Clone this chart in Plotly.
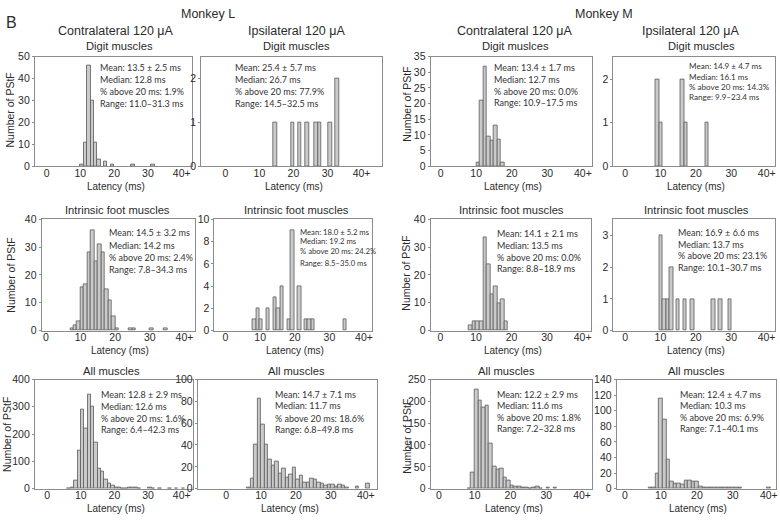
import plotly.graph_objects as go

W, H = 780, 522

# ---------------- data (bin centre latency in ms, number of PStF per 1-ms bin) ----------------
l_contra_digit_lat = [10.5, 11.5, 12.5, 13.5, 14.5, 15.5, 17.5, 19.5, 25.5, 31.5]
l_contra_digit_n = [1, 11, 46, 30, 11, 3, 2, 1, 1, 1]

l_ipsi_digit_lat = [14.6, 19.8, 21.9, 24.0, 26.7, 27.7, 30.8, 32.9]
l_ipsi_digit_n = [1, 1, 1, 1, 1, 1, 1, 2]

m_contra_digit_lat = [10.5, 11.5, 12.5, 13.5, 14.5, 15.5, 16.5, 17.5]
m_contra_digit_n = [1.1, 21, 31.7, 9.4, 8.2, 12.9, 8.4, 1.2]

m_ipsi_digit_lat = [9.1, 10.1, 16.2, 17.2, 23.1]
m_ipsi_digit_n = [2, 1, 2, 1, 1]

l_contra_foot_lat = [7.5, 8.5, 9.5, 10.5, 11.5, 12.5, 13.5, 14.5, 15.5, 16.5, 17.5, 18.5, 19.5, 20.5, 24.5, 25.5, 30.5, 34.5]
l_contra_foot_n = [1, 2, 3.5, 15.5, 16.5, 28, 36, 25, 31, 28, 15, 11, 5, 1, 1, 1, 1, 1]

l_ipsi_foot_lat = [8.3, 9.3, 10.3, 12.3, 14.3, 15.3, 16.3, 18.3, 19.3, 21.3, 23.3, 24.3, 25.3, 34.5]
l_ipsi_foot_n = [1, 2, 1, 2, 3, 2, 4, 1, 9, 4, 1, 1, 1, 1]

m_contra_foot_lat = [8.5, 9.5, 10.5, 11.5, 12.5, 13.5, 14.5, 15.5, 16.5, 17.5, 18.5]
m_contra_foot_n = [2, 3.5, 3.5, 3.5, 33.5, 24, 13, 16, 10, 11.3, 3.5]

m_ipsi_foot_lat = [10.1, 11.1, 12.1, 13.1, 15.0, 16.9, 19.0, 25.0, 26.9, 29.7]
m_ipsi_foot_n = [3, 1, 1, 2, 1, 1, 1, 1, 1, 1]

l_contra_all_lat = [6.5, 7.5, 8.5, 9.5, 10.5, 11.5, 12.5, 13.5, 14.5, 15.5, 16.5, 17.5, 18.5, 19.5,
                    20.5, 21.5, 22.5, 23.5, 24.5, 25.5, 26.5, 27.5, 30.5, 31.5, 33.5, 36.5, 38.5, 40.5]
l_contra_all_n = [2, 5, 30, 140, 290, 220, 345, 300, 168, 72, 62, 35, 18, 10,
                  6, 4, 2, 2, 3, 3, 3, 1, 3, 2, 1, 2, 2, 1]

l_ipsi_all_lat = [6.5, 7.5, 8.5, 9.5, 10.5, 11.5, 12.5, 13.5, 14.5, 15.5, 16.5, 17.5, 18.5, 19.5,
                  20.5, 21.5, 22.5, 23.5, 24.5, 25.5, 26.5, 27.5, 28.5, 29.5, 30.5, 31.5, 32.5,
                  33.5, 34.5, 37.5, 40.5]
l_ipsi_all_n = [1, 9, 40, 83, 59, 40, 27, 21, 25, 14, 18, 10, 13, 19,
                8, 12, 6, 6, 9, 8, 6, 5, 3, 4, 4, 2, 4, 3, 1, 2, 5]

m_contra_all_lat = [8.5, 9.5, 10.5, 11.5, 12.5, 13.5, 14.5, 15.5, 16.5, 17.5, 18.5, 19.5, 20.5,
                    21.5, 22.5, 23.5, 24.5, 25.5, 26.5, 27.5, 28.5, 30.5, 32.5]
m_contra_all_n = [1, 38, 228, 203, 187, 190, 103, 50, 44, 47, 25, 18, 8,
                  5, 4, 3, 2, 1, 2, 4, 1, 2, 2]

m_ipsi_all_lat = [7, 8, 9, 10, 11, 12, 13, 14, 15, 16, 17, 18, 19, 20, 21, 22, 23, 24, 25,
                  26, 27, 28, 29, 30, 31, 32, 40]
m_ipsi_all_n = [1, 1, 19, 116, 89, 37, 9, 6, 7, 5, 11, 10, 9, 9, 3, 2, 2, 2, 2,
                1, 2, 1, 1, 2, 1, 1, 1]

x_tick_vals = [0, 10, 20, 30, 40]
x_tick_text = ["0", "10", "20", "30", "40+"]

stats_l_contra_digit = ["Mean: 13.5 ± 2.5 ms", "Median: 12.8 ms", "% above 20 ms: 1.9%", "Range: 11.0–31.3 ms"]
stats_l_ipsi_digit = ["Mean: 25.4 ± 5.7 ms", "Median: 26.7 ms", "% above 20 ms: 77.9%", "Range: 14.5–32.5 ms"]
stats_m_contra_digit = ["Mean: 13.4 ± 1.7 ms", "Median: 12.7 ms", "% above 20 ms: 0.0%", "Range: 10.9–17.5 ms"]
stats_m_ipsi_digit = ["Mean: 14.9 ± 4.7 ms", "Median: 16.1 ms", "% above 20 ms: 14.3%", "Range: 9.9–23.4 ms"]
stats_l_contra_foot = ["Mean: 14.5 ± 3.2 ms", "Median: 14.2 ms", "% above 20 ms: 2.4%", "Range: 7.8–34.3 ms"]
stats_l_ipsi_foot = ["Mean: 18.0 ± 5.2 ms", "Median: 19.2 ms", "% above 20 ms: 24.2%", "Range: 8.5–35.0 ms"]
stats_m_contra_foot = ["Mean: 14.1 ± 2.1 ms", "Median: 13.5 ms", "% above 20 ms: 0.0%", "Range: 8.8–18.9 ms"]
stats_m_ipsi_foot = ["Mean: 16.9 ± 6.6 ms", "Median: 13.7 ms", "% above 20 ms: 23.1%", "Range: 10.1–30.7 ms"]
stats_l_contra_all = ["Mean: 12.8 ± 2.9 ms", "Median: 12.6 ms", "% above 20 ms: 1.6%", "Range: 6.4–42.3 ms"]
stats_l_ipsi_all = ["Mean: 14.7 ± 7.1 ms", "Median: 11.7 ms", "% above 20 ms: 18.6%", "Range: 6.8–49.8 ms"]
stats_m_contra_all = ["Mean: 12.2 ± 2.9 ms", "Median: 11.6 ms", "% above 20 ms: 1.8%", "Range: 7.2–32.8 ms"]
stats_m_ipsi_all = ["Mean: 12.4 ± 4.7 ms", "Median: 10.3 ms", "% above 20 ms: 6.9%", "Range: 7.1–40.1 ms"]

# ---------------- layout of the 12 panels (pixel boxes) ----------------
SF = 9.0
panels = [
    dict(lat=l_contra_digit_lat, n=l_contra_digit_n, box=(35, 192.7, 51.7, 164), xr=(-3.45, 43.1),
         yr=(0, 50), yt=[0, 10, 20, 30, 40, 50], sub="Digit muscles", subx=120, stats=stats_l_contra_digit,
         sx=98.3, sy=[63.3, 75.7, 88.0, 100.0], sfs=SF, ylab=(10, 106)),
    dict(lat=l_ipsi_digit_lat, n=l_ipsi_digit_n, box=(201.7, 383.3, 51.7, 164), xr=(-7.1, 46.1),
         yr=(0, 2.5), yt=[0, 1, 2], sub="Digit muscles", subx=297.5, stats=stats_l_ipsi_digit,
         sx=233.3, sy=[63.3, 75.7, 88.0, 100.0], sfs=SF, ylab=None),
    dict(lat=m_contra_digit_lat, n=m_contra_digit_n, box=(431.7, 593.3, 51.7, 164), xr=(-2.8, 42.5),
         yr=(0, 35), yt=[0, 5, 10, 15, 20, 25, 30, 35], sub="Digit muslces", subx=516.7, stats=stats_m_contra_digit,
         sx=493.3, sy=[63.3, 75.7, 87.3, 98.3], sfs=SF, ylab=(408, 100)),
    dict(lat=m_ipsi_digit_lat, n=m_ipsi_digit_n, box=(615, 776.7, 51.7, 164), xr=(-3.3, 42.25),
         yr=(0, 2.52), yt=[0, 1, 2], sub="Digit muscles", subx=703, stats=stats_m_ipsi_digit,
         sx=688.3, sy=[61.7, 72.3, 82.7, 93.3], sfs=8.1, ylab=None),
    dict(lat=l_contra_foot_lat, n=l_contra_foot_n, box=(41.7, 195, 218.3, 332.3), xr=(-1.24, 42.9),
         yr=(0, 40), yt=[0, 10, 20, 30, 40], sub="Intrinsic foot muscles", subx=117.5, stats=stats_l_contra_foot,
         sx=107.3, sy=[232.3, 245.0, 257.7, 269.3], sfs=SF, ylab=(11, 275)),
    dict(lat=l_ipsi_foot_lat, n=l_ipsi_foot_n, box=(215, 373.3, 218.3, 332.3), xr=(-3.2, 42.4),
         yr=(0, 10), yt=[0, 2, 4, 6, 8, 10], sub="Intrinsic foot muscles", subx=297.5, stats=stats_l_ipsi_foot,
         sx=298.3, sy=[231.0, 240.7, 251.0, 263.3], sfs=7.7, ylab=None),
    dict(lat=m_contra_foot_lat, n=m_contra_foot_n, box=(431.7, 593, 218.3, 332.3), xr=(-2.8, 42.5),
         yr=(0, 40), yt=[0, 10, 20, 30, 40], sub="Intrinsic foot muscles", subx=513.3, stats=stats_m_contra_foot,
         sx=496, sy=[233.3, 245.0, 257.3, 269.0], sfs=SF, ylab=(407, 273)),
    dict(lat=m_ipsi_foot_lat, n=m_ipsi_foot_n, box=(615, 776.7, 218.3, 332.3), xr=(-3.3, 42.3),
         yr=(0, 3.5), yt=[0, 1, 2, 3], sub="Intrinsic foot muscles", subx=698.3, stats=stats_m_ipsi_foot,
         sx=677.3, sy=[232.3, 243.8, 255.7, 268.0], sfs=SF, ylab=None),
    dict(lat=l_contra_all_lat, n=l_contra_all_n, box=(35, 193.3, 382.3, 494), xr=(-3.65, 43.3),
         yr=(0, 400), yt=[0, 100, 200, 300, 400], sub="All muscles", subx=111.7, stats=stats_l_contra_all,
         sx=99.3, sy=[397.3, 410.0, 421.7, 433.3], sfs=SF, ylab=(7, 438)),
    dict(lat=l_ipsi_all_lat, n=l_ipsi_all_n, box=(198.3, 378.3, 382.3, 494), xr=(-8.1, 43.3),
         yr=(0, 100), yt=[0, 20, 40, 60, 80, 100], sub="All muscles", subx=297.5, stats=stats_l_ipsi_all,
         sx=273.3, sy=[397.3, 409.3, 421.7, 433.3], sfs=SF, ylab=None),
    dict(lat=m_contra_all_lat, n=m_contra_all_n, box=(431.7, 594, 382.3, 494), xr=(-2.3, 42.9),
         yr=(0, 250), yt=[0, 50, 100, 150, 200, 250], sub="All muscles", subx=508.3, stats=stats_m_contra_all,
         sx=496.7, sy=[397.3, 409.3, 421.0, 432.7], sfs=SF, ylab=(408, 440)),
    dict(lat=m_ipsi_all_lat, n=m_ipsi_all_n, box=(618.3, 778, 382.3, 494), xr=(-2.3, 42),
         yr=(0, 140), yt=[0, 20, 40, 60, 80, 100, 120, 140], sub="All muscles", subx=698.3, stats=stats_m_ipsi_all,
         sx=679.3, sy=[397.3, 409.3, 421.0, 432.7], sfs=SF, ylab=None),
]

TITLE_FONT = "Liberation Sans, Arial, sans-serif"
STAT_FONT = "Lato, sans-serif"
TXT = "#2b2b2b"
BOX = "#8c8c8c"


def px(x):
    return x / W


def py(y):
    return 1 - y / H


fig = go.Figure()
annotations = []


def add_text(x, y, text, size, xanchor="center", font=TITLE_FONT, color=TXT, angle=0):
    annotations.append(dict(x=px(x), y=py(y), xref="paper", yref="paper", text=text, showarrow=False,
                            xanchor=xanchor, yanchor="middle", textangle=angle,
                            font=dict(family=font, size=size, color=color)))


for i, p in enumerate(panels):
    k = i + 1
    l, r, t, b = p["box"]
    fig.add_trace(go.Bar(x=p["lat"], y=p["n"], width=1,
                         marker=dict(color="#cacaca", line=dict(color="#5a5a5a", width=0.8)),
                         xaxis=f"x{k}", yaxis=f"y{k}", showlegend=False, hoverinfo="x+y"))
    fig.layout[f"xaxis{k}"] = dict(domain=[px(l), px(r)], range=list(p["xr"]), anchor=f"y{k}",
                                   tickvals=x_tick_vals, ticktext=x_tick_text, showgrid=False, zeroline=False,
                                   showline=True, mirror=True, linecolor=BOX, linewidth=1,
                                   ticks="", ticklabelstandoff=-3,
                                   tickfont=dict(family=TITLE_FONT, size=10.5, color=TXT))
    fig.layout[f"yaxis{k}"] = dict(domain=[py(b), py(t)], range=list(p["yr"]), anchor=f"x{k}",
                                   tickvals=p["yt"], showgrid=False, zeroline=False,
                                   showline=True, mirror=True, linecolor=BOX, linewidth=1,
                                   ticks="outside", ticklen=2, tickcolor=BOX,
                                   tickfont=dict(family=TITLE_FONT, size=10.5, color=TXT))
    # subplot title
    add_text(p["subx"], t - 10.5 if i < 4 else t - 9, p["sub"], 11.2)
    # x-axis title
    add_text((l + r) / 2 + 2, b + 20.5, "Latency (ms)", 10)
    # stats
    for line, yy in zip(p["stats"], p["sy"]):
        add_text(p["sx"], yy, line, p["sfs"], xanchor="left", font=STAT_FONT, color="#333333")
    if p["ylab"]:
        add_text(p["ylab"][0], p["ylab"][1], "Number of PStF", 10.5, angle=-90)

# header texts
add_text(4, 17, "B", 16, xanchor="left")
add_text(209, 8.5, "Monkey L", 12.5)
add_text(606, 8.5, "Monkey M", 12.5)
add_text(116.7, 25.5, "Contralateral 120 μA", 12.5)
add_text(297.5, 25.5, "Ipsilateral 120 μA", 12.5)
add_text(516, 25.5, "Contralateral 120 μA", 12.5)
add_text(693, 25.5, "Ipsilateral 120 μA", 12.5)

fig.update_layout(width=W, height=H, margin=dict(l=0, r=0, t=0, b=0),
                  paper_bgcolor="white", plot_bgcolor="white", annotations=annotations,
                  bargap=0, showlegend=False)

fig.write_html("out.html", config={"displayModeBar": False},
               post_script="document.body.style.margin='0';document.body.style.padding='0';"
                           "document.documentElement.style.overflow='hidden';")
